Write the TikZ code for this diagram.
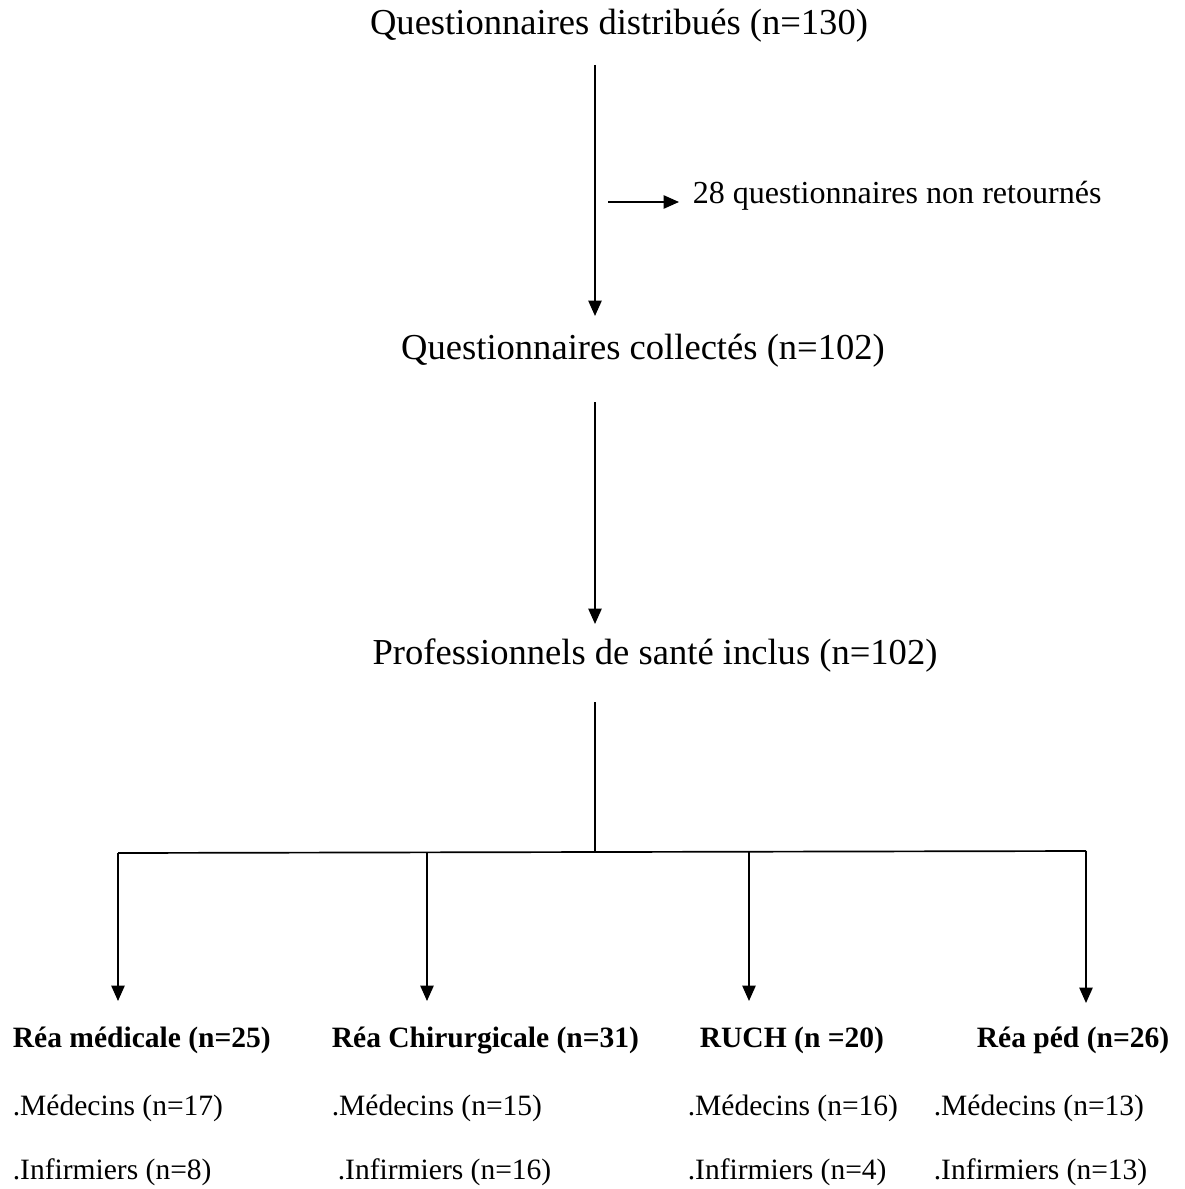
\documentclass[tikz,border=0pt]{standalone}
\usepackage{fontspec}
\setmainfont{Liberation Serif}
\usetikzlibrary{positioning,calc,arrows.meta}

\begin{document}
\begin{tikzpicture}[x=0.025cm,y=-0.025cm,line width=1.2pt,
	big/.style={font=\fontsize{26}{30}\selectfont,inner sep=0pt},
	mid/.style={font=\fontsize{22.8}{26}\selectfont,inner sep=0pt,anchor=west},
	small/.style={font=\fontsize{21}{24}\selectfont,inner sep=0pt,anchor=west},
	head/.style={small,font=\fontsize{21}{24}\selectfont\bfseries},
	arr/.style={-{Triangle[length=11pt,width=9.5pt]}}]
	\useasboundingbox (0,0) rectangle (1184,1189);
	% titres
	\node[big] (dist) at (619,26) {Questionnaires distribués (n=130)};
	\node[big] (coll) at (643,351) {Questionnaires collectés (n=102)};
	\node[big] (incl) at (655,656) {Professionnels de santé inclus (n=102)};
	\node[mid] (nonret) at (692,196) {28 questionnaires non retournés};
	% axe central
	\coordinate (a1) at (595,65);
	\coordinate (a2) at (595,316);
	\coordinate (a3) at (595,402);
	\coordinate (a4) at (595,624);
	\coordinate (a5) at (595,702);
	\coordinate (a6) at (595,853);
	\coordinate (side) at (608,202);
	\draw[arr] (a1) -- (a2);
	\draw[arr] (side) -- ($(nonret.west)+(-13,6)$);
	\draw[arr] (a3) -- (a4);
	\draw (a5) -- (a6);
	% branches
	\coordinate (l1) at (118,853);
	\coordinate (l2) at (427,853);
	\coordinate (l3) at (749,852);
	\coordinate (l4) at (1086,851);
	\draw (l1) -- (l4);
	% services
	\node[head] (rmed) at (12,1040) {Réa médicale (n=25)};
	\node[head] (rchir) at (331,1040) {Réa Chirurgicale (n=31)};
	\node[head] (ruch) at (699,1040) {RUCH (n =20)};
	\node[head] (rped) at (976,1040) {Réa péd (n=26)};
	\draw[arr] (l1) -- (l1 |- 0,1001);
	\draw[arr] (l2) -- (l2 |- 0,1001);
	\draw[arr] (l3) -- (l3 |- 0,1001);
	\draw[arr] (l4) -- (l4 |- 0,1003);
	% effectifs
	\node[small] (m1) at (12,1108) {.Médecins (n=17)};
	\node[small] (m2) at (331,1108) {.Médecins (n=15)};
	\node[small] (m3) at (687,1108) {.Médecins (n=16)};
	\node[small] (m4) at (933,1108) {.Médecins (n=13)};
	\node[small] (i1) at (12,1172) {.Infirmiers (n=8)};
	\node[small] (i2) at (337,1172) {.Infirmiers (n=16)};
	\node[small] (i3) at (687,1172) {.Infirmiers (n=4)};
	\node[small] (i4) at (933,1172) {.Infirmiers (n=13)};
\end{tikzpicture}
\end{document}
